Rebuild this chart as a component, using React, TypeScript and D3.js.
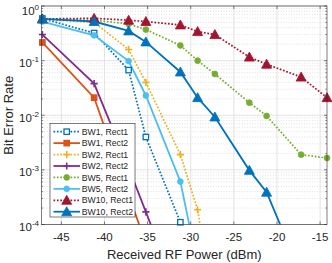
import { useEffect, useRef } from 'react';
import * as d3 from 'd3';

// Received RF power (dBm) at which the BER was measured
const powerDbm = [-47.2, -41.2, -37.2, -35.2, -31.2, -29.2, -27.2, -23.2, -21.2, -17.2, -14.2];

// BER per configuration (one value per power point, series stop where they fall off the chart)
const bw1Rect1 = [0.59, 0.32, 0.067, 0.004, 1.1e-4];
const bw1Rect2 = [0.215, 0.021, 3.5e-4, 4.5e-5];
const bw2Rect1 = [0.57, 0.5, 0.16, 0.04, 1.9e-3, 1.86e-4, 2e-6];
const bw2Rect2 = [0.3, 0.038, 1.1e-3, 1.7e-4, 4e-6];
const bw5Rect1 = [0.57, 0.55, 0.47, 0.37, 0.19, 0.1, 0.057, 0.017, 0.0097, 1.9e-3, 1.65e-3];
const bw5Rect2 = [0.52, 0.29, 0.098, 0.023, 6.1e-4, 1.8e-5];
const bw10Rect1 = [0.58, 0.595, 0.55, 0.52, 0.45, 0.34, 0.3, 0.116, 0.086, 0.05, 0.021];
const bw10Rect2 = [0.58, 0.52, 0.35, 0.22, 0.062, 0.021, 0.0093, 9.8e-4, 3.9e-4, 1.2e-5];

const xTicks = [-45, -40, -35, -30, -25, -20, -15];
const yExponents = [0, -1, -2, -3, -4];

type Marker = 'square' | 'plus' | 'circle' | 'triangle';
interface Series { label: string; values: number[]; color: string; dotted: boolean; marker: Marker; hollow?: boolean }

const SERIES: Series[] = [
    { label: 'BW1, Rect1', values: bw1Rect1, color: '#0072BD', dotted: true, marker: 'square', hollow: true },
    { label: 'BW1, Rect2', values: bw1Rect2, color: '#D95319', dotted: false, marker: 'square' },
    { label: 'BW2, Rect1', values: bw2Rect1, color: '#EDB120', dotted: true, marker: 'plus' },
    { label: 'BW2, Rect2', values: bw2Rect2, color: '#7E2F8E', dotted: false, marker: 'plus' },
    { label: 'BW5, Rect1', values: bw5Rect1, color: '#77AC30', dotted: true, marker: 'circle' },
    { label: 'BW5, Rect2', values: bw5Rect2, color: '#4DBEEE', dotted: false, marker: 'circle' },
    { label: 'BW10, Rect1', values: bw10Rect1, color: '#A2142F', dotted: true, marker: 'triangle' },
    { label: 'BW10, Rect2', values: bw10Rect2, color: '#0072BD', dotted: false, marker: 'triangle' },
];

const FONT = '"Liberation Sans", Arial, Helvetica, sans-serif';
const AXIS = '#262626';

const W = 332;
const H = 263;

function drawMarker(g: any, m: Marker, cx: number, cy: number, color: string, hollow?: boolean) {
    if (m === 'square') {
        g.append('rect')
            .attr('x', cx - 2.7).attr('y', cy - 2.7)
            .attr('width', 5.4).attr('height', 5.4)
            .attr('fill', hollow ? '#fff' : color)
            .attr('stroke', color).attr('stroke-width', 1.3);
    } else if (m === 'circle') {
        g.append('circle')
            .attr('cx', cx).attr('cy', cy).attr('r', 2.9)
            .attr('fill', color).attr('stroke', color).attr('stroke-width', 0.8);
    } else if (m === 'plus') {
        g.append('path')
            .attr('d', `M${cx - 3.6},${cy}H${cx + 3.6}M${cx},${cy - 3.6}V${cy + 3.6}`)
            .attr('stroke', color).attr('stroke-width', 1.6).attr('fill', 'none');
    } else {
        const s = 5;
        g.append('path')
            .attr('d', `M${cx},${cy - s}L${cx + s},${cy + s * 0.8}L${cx - s},${cy + s * 0.8}Z`)
            .attr('fill', color).attr('stroke', color).attr('stroke-width', 0.8)
            .attr('stroke-linejoin', 'miter');
    }
}

export default function App() {
    const svgRef = useRef<SVGSVGElement | null>(null);

    useEffect(() => {
        if (!svgRef.current) return;
        const svg = d3.select(svgRef.current);
        svg.selectAll('*').remove();

        const left = 41.5, right = 327, top = 6, bottom = 224.5;

        const x = d3.scaleLinear().domain([-47.3, -14.2]).range([left, right]);
        const y = d3.scaleLog().domain([1e-4, 1]).range([bottom, top]);

        svg.append('rect').attr('width', W).attr('height', H).attr('fill', '#fff');
        svg.append('defs').append('clipPath').attr('id', 'plotClip')
            .append('rect')
            .attr('x', left).attr('y', top)
            .attr('width', right - left).attr('height', bottom - top);

        const grid = svg.append('g');

        // minor log grid (dotted)
        const minor: number[] = [];
        for (let e = -4; e < 0; e++) {
            for (let k = 2; k <= 9; k++) minor.push(k * Math.pow(10, e));
        }
        grid.selectAll('line.minor')
            .data(minor)
            .join('line')
            .attr('class', 'minor')
            .attr('x1', left).attr('x2', right)
            .attr('y1', d => y(d)).attr('y2', d => y(d))
            .attr('stroke', '#d4d4d4')
            .attr('stroke-width', 0.7)
            .attr('stroke-dasharray', '1,1.6');

        // major grid
        grid.selectAll('line.majY')
            .data(yExponents)
            .join('line')
            .attr('class', 'majY')
            .attr('x1', left).attr('x2', right)
            .attr('y1', d => y(Math.pow(10, d))).attr('y2', d => y(Math.pow(10, d)))
            .attr('stroke', '#dcdcdc').attr('stroke-width', 0.8);
        grid.selectAll('line.majX')
            .data(xTicks)
            .join('line')
            .attr('class', 'majX')
            .attr('x1', d => x(d)).attr('x2', d => x(d))
            .attr('y1', top).attr('y2', bottom)
            .attr('stroke', '#dcdcdc').attr('stroke-width', 0.8);

        // series lines
        const plot = svg.append('g').attr('clip-path', 'url(#plotClip)');
        SERIES.forEach(s => {
            const pts = s.values.map((v, i) => [powerDbm[i], v] as [number, number]);
            const line = d3.line<[number, number]>()
                .x(d => x(d[0]))
                .y(d => y(d[1]));
            plot.append('path')
                .datum(pts)
                .attr('d', line)
                .attr('fill', 'none')
                .attr('stroke', s.color)
                .attr('stroke-width', s.dotted ? 1.7 : 1.8)
                .attr('stroke-dasharray', s.dotted ? '1.7,1.7' : null);
        });

        // markers (only points inside the axes)
        const marks = svg.append('g');
        SERIES.forEach(s => {
            s.values.forEach((v, i) => {
                if (v < 1e-4 || v > 1) return;
                drawMarker(marks, s.marker, x(powerDbm[i]), y(v), s.color, s.hollow);
            });
        });

        // axes box and ticks
        const ax = svg.append('g');
        ax.append('rect')
            .attr('x', left).attr('y', top)
            .attr('width', right - left).attr('height', bottom - top)
            .attr('fill', 'none').attr('stroke', AXIS).attr('stroke-width', 0.6);

        xTicks.forEach(t => {
            ax.append('line').attr('x1', x(t)).attr('x2', x(t)).attr('y1', bottom).attr('y2', bottom - 3)
                .attr('stroke', AXIS).attr('stroke-width', 0.6);
            ax.append('line').attr('x1', x(t)).attr('x2', x(t)).attr('y1', top).attr('y2', top + 3)
                .attr('stroke', AXIS).attr('stroke-width', 0.6);
        });
        yExponents.forEach(e => {
            const yy = y(Math.pow(10, e));
            ax.append('line').attr('x1', left).attr('x2', left + 3).attr('y1', yy).attr('y2', yy)
                .attr('stroke', AXIS).attr('stroke-width', 0.6);
            ax.append('line').attr('x1', right).attr('x2', right - 3).attr('y1', yy).attr('y2', yy)
                .attr('stroke', AXIS).attr('stroke-width', 0.6);
        });
        minor.forEach(m => {
            const yy = y(m);
            ax.append('line').attr('x1', left).attr('x2', left + 1.6).attr('y1', yy).attr('y2', yy)
                .attr('stroke', AXIS).attr('stroke-width', 0.5);
            ax.append('line').attr('x1', right).attr('x2', right - 1.6).attr('y1', yy).attr('y2', yy)
                .attr('stroke', AXIS).attr('stroke-width', 0.5);
        });

        // tick labels
        xTicks.forEach(t => {
            ax.append('text')
                .attr('x', x(t)).attr('y', bottom + 16.5)
                .attr('text-anchor', 'middle')
                .style('font-family', FONT).style('font-size', '11.5px').style('fill', AXIS)
                .text(`${t}`);
        });
        yExponents.forEach(e => {
            const t = ax.append('text')
                .attr('x', 39).attr('y', y(Math.pow(10, e)) + (e === 0 ? 8.5 : 6.5))
                .attr('text-anchor', 'end')
                .style('font-family', FONT).style('fill', AXIS);
            t.append('tspan').style('font-size', '11.5px').text('10');
            t.append('tspan').attr('dy', -5).style('font-size', '8px').text(`${e}`);
        });

        // axis titles
        svg.append('text')
            .attr('x', (left + right) / 2).attr('y', 259)
            .attr('text-anchor', 'middle')
            .style('font-family', FONT).style('font-size', '13px').style('fill', AXIS)
            .text('Received RF Power (dBm)');
        svg.append('text')
            .attr('transform', `translate(12.5,${(top + bottom) / 2}) rotate(-90)`)
            .attr('text-anchor', 'middle')
            .style('font-family', FONT).style('font-size', '13px').style('fill', AXIS)
            .text('Bit Error Rate');

        // legend
        const lg = svg.append('g');
        const lx = 50, ly = 123.3, lw = 85, lh = 93.7;
        lg.append('rect')
            .attr('x', lx).attr('y', ly).attr('width', lw).attr('height', lh)
            .attr('fill', '#fff').attr('stroke', AXIS).attr('stroke-width', 0.6);
        SERIES.forEach((s, i) => {
            const cy = 131.7 + i * 11.43;
            lg.append('line')
                .attr('x1', 53.5).attr('x2', 80).attr('y1', cy).attr('y2', cy)
                .attr('stroke', s.color)
                .attr('stroke-width', s.dotted ? 1.7 : 1.8)
                .attr('stroke-dasharray', s.dotted ? '1.7,1.7' : null);
            drawMarker(lg, s.marker, 66.7, cy, s.color, s.hollow);
            lg.append('text')
                .attr('x', 81.8).attr('y', cy + 3.1)
                .style('font-family', FONT).style('font-size', '8.7px').style('fill', AXIS)
                .text(s.label);
        });
    }, []);

    return (
        <div style={{ position: 'fixed', left: 0, top: 0 }}>
            <svg ref={svgRef} width={W} height={H} style={{ display: 'block' }} />
        </div>
    );
}
